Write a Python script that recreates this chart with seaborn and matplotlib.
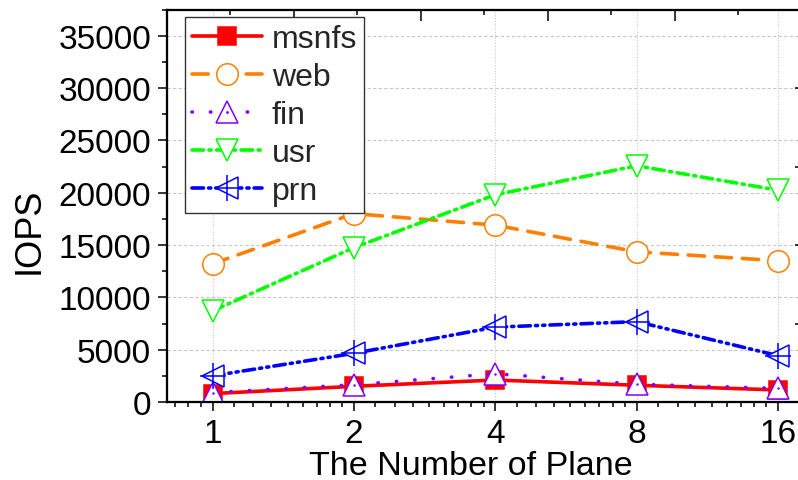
import matplotlib
matplotlib.use("Agg")
import matplotlib.pyplot as plt
import seaborn as sns
from matplotlib.ticker import LogLocator, NullFormatter, MultipleLocator
from matplotlib.lines import Line2D
from matplotlib.legend_handler import HandlerTuple

# IOPS per trace as the number of planes grows
planes = [1, 2, 4, 8, 16]
msnfs = [800, 1500, 2100, 1600, 1150]
web = [13200, 18000, 16900, 14350, 13500]
fin = [900, 1650, 2700, 1700, 1300]
usr = [8700, 14750, 19800, 22570, 20240]
prn = [2500, 4650, 7150, 7680, 4430]

sns.set_theme(style="ticks")
plt.rcParams["font.family"] = ["Liberation Sans", "DejaVu Sans"]

W, H = 798, 481
fig = plt.figure(figsize=(W / 100, H / 100), dpi=100)
ax = fig.add_axes([167 / W, 78 / H, 635 / W, 392.5 / H])

ax.set_xscale("log", base=2)
ax.set_xlim(0.8, 18)
ax.set_ylim(0, 37500)

LW = 2.6
series = [
    dict(name="msnfs", y=msnfs, color="#ff0000", marker="s", ms=13, mfc="#ff0000",
         ls="-"),
    dict(name="web", y=web, color="#ff8000", marker="o", ms=15.5, mfc="white",
         ls=(0, (4.5, 3.0))),
    dict(name="fin", y=fin, color="#8000ff", marker="^", ms=15.5, mfc="white",
         ls=(0, (0.1, 5.0))),
    dict(name="usr", y=usr, color="#00ff00", marker="v", ms=15.5, mfc="white",
         ls=(0, (3.2, 1.5, 0.6, 1.5))),
    dict(name="prn", y=prn, color="#0000ff", marker="<", ms=15.5, mfc="white",
         ls=(0, (3.2, 1.4, 0.6, 1.4, 0.6, 1.4))),
]

handles = []
for s in series:
    sns.lineplot(x=planes, y=s["y"], ax=ax, color=s["color"], marker=s["marker"],
                 markersize=s["ms"], mfc=s["mfc"], mec=s["color"], mew=1.1,
                 linewidth=LW, linestyle=s["ls"], dash_capstyle="round",
                 legend=False, zorder=3)
    h = Line2D([], [], color=s["color"], marker=s["marker"], markersize=s["ms"],
               markerfacecolor=s["mfc"], markeredgecolor=s["color"],
               markeredgewidth=1.1, linewidth=LW, linestyle=s["ls"],
               dash_capstyle="round")
    if s["name"] == "fin":
        sns.lineplot(x=planes, y=s["y"], ax=ax, color=s["color"], marker=".",
                     markersize=2, mec=s["color"], linestyle="none",
                     legend=False, zorder=4)
        h = (h, Line2D([], [], color=s["color"], marker=".", markersize=2,
                       linestyle="none"))
    if s["name"] == "prn":
        sns.lineplot(x=planes, y=s["y"], ax=ax, color=s["color"], marker="+",
                     markersize=19, mec=s["color"], mew=1.1, linestyle="none",
                     legend=False, zorder=4)
        h = (h, Line2D([], [], color=s["color"], marker="+", markersize=19,
                       markeredgewidth=1.1, linestyle="none"))
    handles.append(h)

# bottom axis: log2 positions with 8 minor ticks per octave
ax.set_xticks(planes, labels=[str(p) for p in planes])
ax.xaxis.set_minor_locator(LogLocator(base=2, subs=[1 + j / 9 for j in range(1, 9)],
                                      numticks=50))
ax.xaxis.set_minor_formatter(NullFormatter())
ax.yaxis.set_major_locator(MultipleLocator(5000))
ax.yaxis.set_minor_locator(MultipleLocator(2500))

ax.tick_params(axis="both", which="major", direction="out", length=6.5, width=1.1,
               labelsize=24, color="black", labelcolor="black")
ax.tick_params(axis="both", which="minor", direction="out", length=3.5, width=1.1,
               color="black")
ax.tick_params(axis="y", pad=5)
ax.tick_params(axis="x", pad=5)

ax.yaxis.grid(True, which="major", linestyle=(0, (3, 2)), color="#c8c8c8", lw=0.8)
ax.xaxis.grid(True, which="major", linestyle=(0, (1, 1.5)), color="#c8c8c8", lw=0.8)
ax.set_axisbelow(True)

for sp in ax.spines.values():
    sp.set_linewidth(1.5)
    sp.set_color("black")

ax.set_xlabel("The Number of Plane", fontsize=24.5, color="black")
ax.set_ylabel("IOPS", fontsize=26, color="black")
ax.xaxis.set_label_coords(0.479, -0.123)
ax.yaxis.set_label_coords(-0.19, 0.438)

# frame ticks on top and right edges
ax_top = ax.twiny()
ax_top.set_xlim(0, 5)
ax_top.xaxis.set_major_locator(MultipleLocator(1))
ax_top.xaxis.set_minor_locator(MultipleLocator(0.5))
ax_top.tick_params(axis="x", which="both", direction="in", top=True, bottom=False,
                   labeltop=False, labelbottom=False, width=1.1, color="black")
ax_top.tick_params(axis="x", which="major", length=8)
ax_top.tick_params(axis="x", which="minor", length=3.6)

ax_right = ax.twinx()
ax_right.set_ylim(0, 5)
ax_right.yaxis.set_major_locator(MultipleLocator(1))
ax_right.yaxis.set_minor_locator(MultipleLocator(0.5))
ax_right.tick_params(axis="y", which="both", direction="in", right=True, left=False,
                     labelright=False, labelleft=False, width=1.1, color="black")
ax_right.tick_params(axis="y", which="major", length=5)
ax_right.tick_params(axis="y", which="minor", length=3)
for a in (ax_top, ax_right):
    for sp in a.spines.values():
        sp.set_linewidth(1.5)
        sp.set_color("black")

leg = ax_right.legend(handles, [s["name"] for s in series],
                      handler_map={tuple: HandlerTuple(ndivide=1, pad=0)},
                      loc="upper left", bbox_to_anchor=(185 / W, 1 - 18 / H),
                      bbox_transform=fig.transFigure, borderaxespad=0,
                      fontsize=23, handlelength=2.2, handletextpad=0.3,
                      labelspacing=0.25, borderpad=0.22, frameon=True,
                      fancybox=False, framealpha=1, edgecolor="#333333")
leg.get_frame().set_linewidth(1.0)

fig.savefig("out.png", dpi=100)
